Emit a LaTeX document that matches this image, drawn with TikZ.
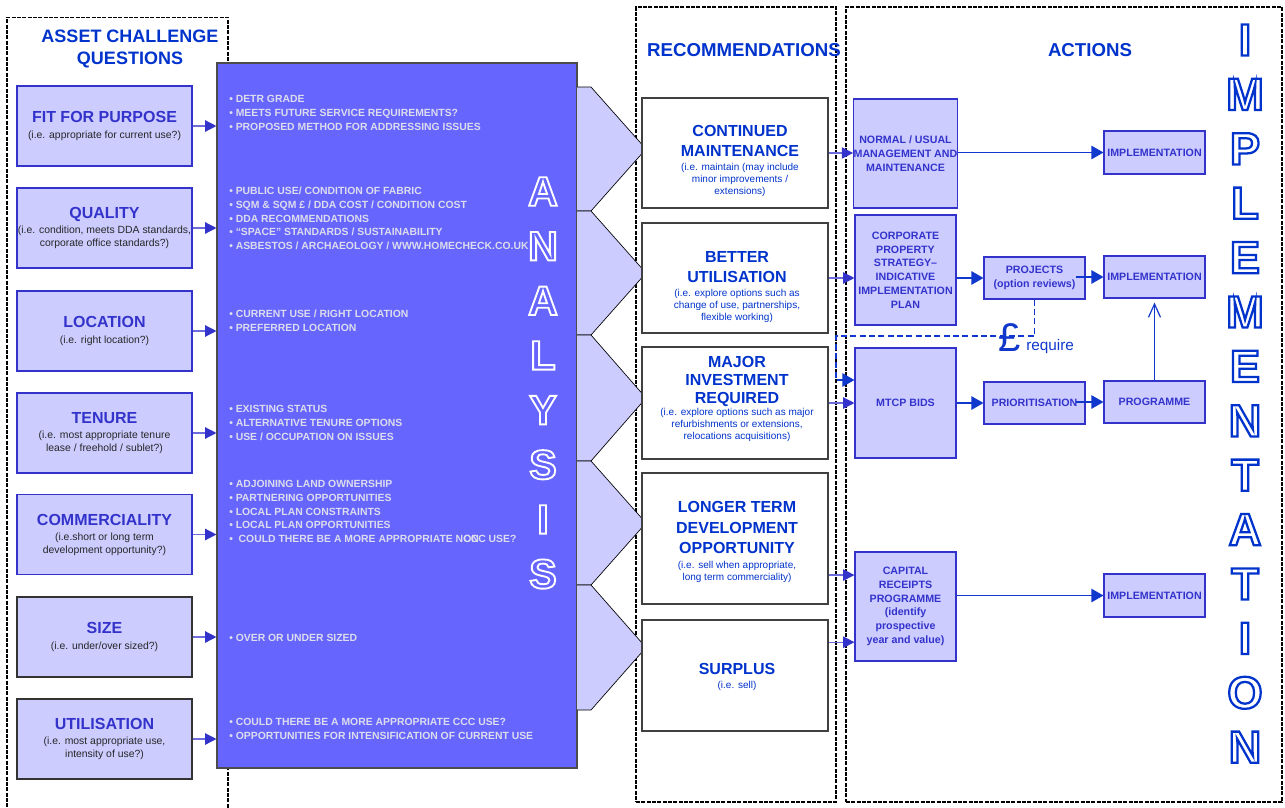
\documentclass[tikz,border=0pt]{standalone}
\usepackage{fontspec}
\setmainfont{Liberation Sans}
\usepackage{xcolor}
\usepackage{tikz}
\usetikzlibrary{arrows.meta}
\definecolor{qfill}{HTML}{CCCCFF}
\definecolor{qline}{HTML}{3333CC}
\definecolor{anfill}{HTML}{6666FF}
\definecolor{bullet}{HTML}{DCDCEC}
\definecolor{hdblue}{HTML}{0033CC}
\definecolor{actblue}{HTML}{1038CC}
\definecolor{arrline}{HTML}{6C6CDC}
\newcommand{\qhead}[1]{{\fontsize{12}{14}\selectfont\bfseries\color{qline}#1}}
\newcommand{\rhead}[1]{{\fontsize{12}{15}\selectfont\bfseries\color{hdblue}#1}}
% stroked (hollow) glyphs: line width in pt, text
\newcommand{\outl}[2]{\special{pdf:code q 1 Tr #1 w 0 j}#2\special{pdf:code Q}}

\begin{document}
\begin{tikzpicture}[x=0.75pt,y=-0.75pt,
  frame/.style={draw,dash pattern=on 3pt off 1pt,line width=0.9pt,inner sep=0pt},
  title/.style={text=hdblue,font=\fontsize{14}{17}\selectfont\bfseries,align=center},
  qbox/.style={draw=qline,fill=qfill,line width=0.8pt,inner sep=0pt,
               minimum width=131.25pt,minimum height=60pt,align=center,
               text=black!85,font=\fontsize{7.8}{9.5}\selectfont},
  bul/.style={anchor=west,align=left,text=bullet,inner sep=0pt,
              font=\fontsize{7.8}{10.3}\selectfont\bfseries},
  chev/.style={fill=qfill,draw=black,line width=0.5pt},
  rbox/.style={draw=black!75,fill=white,line width=0.8pt,inner sep=0pt,
               minimum width=139.5pt},
  rtext/.style={align=center,text=hdblue,inner sep=0pt,
                font=\fontsize{7.5}{9}\selectfont},
  abox/.style={draw=qline,fill=qfill,line width=0.8pt,inner sep=0pt,
               minimum width=75.75pt,align=center,text=qline,
               font=\fontsize{8}{10.3}\selectfont\bfseries},
  anletter/.style={text=white,font=\fontsize{31}{31}\selectfont\bfseries,inner sep=0pt},
  imletter/.style={text=hdblue,font=\fontsize{34}{34}\selectfont\bfseries,inner sep=0pt},
  qarr/.style={draw=arrline,line width=1pt,-{Triangle[length=8.5pt,width=8.5pt,color=qline]}},
  aarr/.style={draw=actblue,line width=1pt,-{Triangle[length=9pt,width=10pt]}},
  dashline/.style={draw=actblue,line width=0.9pt,dash pattern=on 4.5pt off 2.5pt},
  uparr/.style={draw=actblue,line width=0.9pt,-{Straight Barb[length=10pt,width=9pt]}}
]
\useasboundingbox (0,0) rectangle (1285,807);

% group frames
\node[frame,minimum width=165.75pt,minimum height=595pt] (qframe) at (117.5,414) {};
\node[frame,minimum width=150pt,minimum height=596.25pt] (recframe) at (736,404.5) {};
\node[frame,minimum width=327pt,minimum height=596.25pt] (actframe) at (1064,404.5) {};

\node[title,font=\fontsize{13.5}{17}\selectfont\bfseries] (qtitle) at (130,49) {ASSET CHALLENGE\\QUESTIONS};
\node[title] (rectitle) at (744,50) {RECOMMENDATIONS};
\node[title] (acttitle) at (1090,50) {ACTIONS};

% asset challenge questions
\node[qbox] (fit) at (104.5,126) {\qhead{FIT FOR PURPOSE}\\[2pt](i.e. appropriate for current use?)};
\node[qbox] (quality) at (104.5,228) {\qhead{QUALITY}\\[2pt](i.e. condition, meets DDA standards,\\corporate office standards?)};
\node[qbox] (location) at (104.5,331) {\qhead{LOCATION}\\[2pt](i.e. right location?)};
\node[qbox] (tenure) at (104.5,433) {\qhead{TENURE}\\[2pt](i.e. most appropriate tenure\\lease / freehold / sublet?)};
\node[qbox] (commercial) at (104.5,534.5) {\qhead{COMMERCIALITY}\\[2pt](i.e.short or long term\\development opportunity?)};
\node[qbox,draw=black!80] (size) at (104.5,637) {\qhead{SIZE}\\[2pt](i.e. under/over sized?)};
\node[qbox,draw=black!80] (util) at (104.5,739) {\qhead{UTILISATION}\\[2pt](i.e. most appropriate use,\\intensity of use?)};

% analysis block
\node[draw=black!70,fill=anfill,line width=0.8pt,minimum width=270pt,minimum height=528.75pt] (analysis) at (397,415.5) {};

\node[bul] (b1) at (229,113) {• DETR GRADE\\• MEETS FUTURE SERVICE REQUIREMENTS?\\• PROPOSED METHOD FOR ADDRESSING ISSUES};
\node[bul] (b2) at (229,218.5) {• PUBLIC USE/ CONDITION OF FABRIC\\• SQM \& SQM £ / DDA COST / CONDITION COST\\• DDA RECOMMENDATIONS\\• “SPACE” STANDARDS / SUSTAINABILITY\\• ASBESTOS / ARCHAEOLOGY / WWW.HOMECHECK.CO.UK};
\node[bul] (b3) at (229,320.5) {• CURRENT USE / RIGHT LOCATION\\• PREFERRED LOCATION};
\node[bul] (b4) at (229,423) {• EXISTING STATUS\\• ALTERNATIVE TENURE OPTIONS\\• USE / OCCUPATION ON ISSUES};
\node[bul] (b5) at (229,511.5) {• ADJOINING LAND OWNERSHIP\\• PARTNERING OPPORTUNITIES\\• LOCAL PLAN CONSTRAINTS\\• LOCAL PLAN OPPORTUNITIES\\•\ \ COULD THERE BE A MORE APPROPRIATE N\rlap{ON}CCC USE?};
\node[bul] (b6) at (229,638) {• OVER OR UNDER SIZED};
\node[bul] (b7) at (229,729) {• COULD THERE BE A MORE APPROPRIATE CCC USE?\\• OPPORTUNITIES FOR INTENSIFICATION OF CURRENT USE};

\foreach \ch [count=\i] in {A,N,A,L,Y,S,I,S}
  \node[anletter] (an\i) at (543,{191.5+54.65*(\i-1)}) {\outl{1.4}{\ch}};

\foreach \q in {fit,quality,location,tenure,commercial,size,util}
  \draw[qarr] (\q.east) -- (\q.east -| analysis.west);

% chevrons
\foreach \t/\b in {87/211,211/335,335/461,461/585,585/710}
  \path[chev] (577,\t) -- (591,\t) -- (646,{(\t+\b)/2}) -- (591,\b) -- (577,\b);

% recommendations
\node[rbox,minimum height=82.5pt] (maint) at (735,153) {};
\node[rtext] (maint-t) at (740,161) {\rhead{CONTINUED}\\[6pt]\rhead{MAINTENANCE}\\[2pt](i.e. maintain (may include\\minor improvements /\\extensions)};
\node[rbox,minimum height=82.5pt] (better) at (735,278) {};
\node[rtext] (better-t) at (737,287) {\rhead{BETTER}\\[6pt]\rhead{UTILISATION}\\[1.5pt](i.e. explore options such as\\change of use, partnerships,\\flexible working)};
\node[rbox,minimum height=84pt] (major) at (735,403) {};
\node[rtext] (major-t) at (737,399) {\rhead{MAJOR}\\[4.5pt]\rhead{INVESTMENT}\\[4.5pt]\rhead{REQUIRED}\\[0.5pt](i.e. explore options such as major\\refurbishments or extensions,\\relocations acquisitions)};
\node[rbox,minimum height=98.25pt] (longer) at (735,538.5) {};
\node[rtext] (longer-t) at (737,542) {\rhead{LONGER TERM}\\[6.5pt]\rhead{DEVELOPMENT}\\[6.5pt]\rhead{OPPORTUNITY}\\[2pt](i.e. sell when appropriate,\\long term commerciality)};
\node[rbox,minimum height=83.25pt] (surplus) at (735,675.5) {};
\node[rtext] (surplus-t) at (737,677) {\rhead{SURPLUS}\\[2pt](i.e. sell)};

% actions
\node[abox,minimum height=81.75pt] (normal) at (905.5,153.5) {NORMAL / USUAL\\MANAGEMENT AND\\MAINTENANCE};
\node[abox,minimum height=82.5pt] (corporate) at (905.5,270) {CORPORATE\\PROPERTY\\STRATEGY–\\INDICATIVE\\IMPLEMENTATION\\PLAN};
\node[abox,minimum height=82.5pt] (mtcp) at (905.5,403) {MTCP BIDS};
\node[abox,minimum height=81.75pt] (capital) at (905.5,606.5) {CAPITAL\\RECEIPTS\\PROGRAMME\\(identify\\prospective\\year and value)};
\node[abox,minimum height=31.5pt] (projects) at (1034.5,278) {PROJECTS\\(option reviews)};
\node[abox,minimum height=31.5pt] (prior) at (1034.5,403) {PRIORITISATION};
\node[abox,minimum height=32.25pt] (impl1) at (1154.5,152.5) {IMPLEMENTATION};
\node[abox,minimum height=31.5pt] (impl2) at (1154.5,277) {IMPLEMENTATION};
\node[abox,minimum height=31.5pt] (programme) at (1154.5,402) {PROGRAMME};
\node[abox,minimum height=32.25pt] (impl3) at (1154.5,595.5) {IMPLEMENTATION};

\foreach \ch [count=\i] in {I,M,P,L,E,M,E,N,T,A,T,I,O,N}
  \node[imletter] (im\i) at (1245,{40+54.4*(\i-1)}) {\outl{1.7}{\ch}};

% recommendation to action links
\draw[qarr] (maint.east) -- (maint.east -| normal.west);
\draw[qarr] (better.east) -- (better.east -| corporate.west);
\draw[qarr] (major.east) -- (major.east -| mtcp.west);
\draw[qarr] ([yshift=-27.4pt]longer.east) -- ([yshift=-27.4pt]longer.east -| capital.west);
\draw[qarr] ([yshift=25pt]surplus.east) -- ([yshift=25pt]surplus.east -| capital.west);

% action flow
\draw[aarr] (normal.east |- impl1.west) -- (impl1.west);
\draw[aarr] (corporate.east |- projects.west) -- (projects.west);
\draw[aarr] ([xshift=-7.5pt]projects.east |- impl2.west) -- (impl2.west);
\draw[aarr] (mtcp.east) -- (prior.west);
\draw[aarr] ([xshift=-7.5pt]prior.east |- programme.west) -- (programme.west);
\draw[aarr] (capital.east |- impl3.west) -- (impl3.west);
\draw[uparr] (programme.north) -- ([yshift=-3pt]impl2.south);

\coordinate (reqturn) at (836,336);
\draw[dashline,-{Triangle[length=9pt,width=10pt]}] (projects.south) |- (reqturn) |- ([yshift=17.25pt]mtcp.west);
\node[text=actblue,font=\fontsize{30}{30}\selectfont,inner sep=0pt] (pound) at (1010,338) {£};
\node[text=actblue,font=\fontsize{11.5}{13}\selectfont,anchor=west,inner sep=0pt] (require) at (1026,347) {require};
\end{tikzpicture}
\end{document}
